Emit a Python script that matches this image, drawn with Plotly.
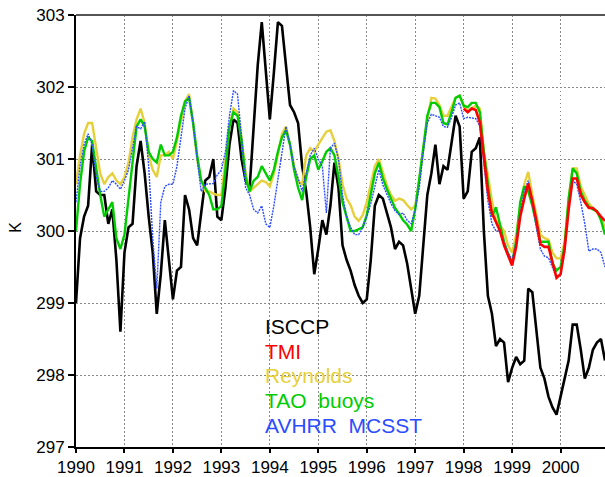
import plotly.graph_objects as go

# Monthly series, Jan 1990 .. Dec 2000 (132 months)
start_year = 1990
n_months = 132

isccp = [
    299.0, 299.9, 300.2, 300.35, 301.2, 300.55, 300.5, 300.5, 300.1, 300.3, 299.6, 298.6,
    299.7, 300.05, 300.1, 300.9, 301.25, 300.8, 300.2, 299.7, 298.85, 299.4, 300.15, 299.6,
    299.05, 299.45, 299.5, 300.5, 300.3, 299.9, 299.8, 300.25, 300.7, 300.75, 301.0, 300.2,
    300.15, 300.6, 301.2, 301.55, 301.5, 301.0, 300.7, 300.6, 301.5, 302.3, 302.9, 302.2,
    301.55, 302.2, 302.9, 302.85, 302.3, 301.75, 301.65, 301.5, 300.9, 300.55, 300.05, 299.4,
    299.75, 300.15, 299.95, 300.35, 300.95, 300.6, 299.8, 299.6, 299.45, 299.25, 299.1, 299.0,
    299.05, 299.6, 300.35, 300.5, 300.45, 300.25, 300.05, 299.75, 299.85, 299.8, 299.55, 299.2,
    298.85, 299.1, 299.8, 300.5, 300.8, 301.2, 300.65, 300.9, 300.85, 301.25, 301.6, 301.45,
    300.45, 300.55, 301.1, 301.15, 301.3, 300.0, 299.1, 298.85, 298.4, 298.5, 298.45, 297.9,
    298.1, 298.25, 298.15, 298.2, 299.2, 299.15, 298.6, 298.1, 297.95, 297.7, 297.55, 297.45,
    297.7, 297.95, 298.2, 298.7, 298.7, 298.35, 297.95, 298.1, 298.35, 298.45, 298.5, 298.2,
]

reynolds = [
    300.65, 301.05, 301.35, 301.5, 301.5, 301.15, 300.8, 300.65, 300.75, 300.8, 300.7, 300.65,
    300.75, 300.95, 301.3, 301.55, 301.7, 301.5, 301.05, 300.85, 300.75, 301.05, 301.05, 301.1,
    301.0, 301.25, 301.55, 301.8, 301.9, 301.5, 301.0, 300.7, 300.55, 300.55, 300.52, 300.5,
    300.5, 300.95, 301.45, 301.7, 301.65, 301.3, 300.8, 300.55, 300.6, 300.65, 300.7, 300.68,
    300.62, 300.8, 301.1, 301.35, 301.45, 301.2, 300.9, 300.7, 300.64, 301.05, 301.15, 301.1,
    301.2, 301.3, 301.38, 301.4, 301.25, 301.0, 300.65, 300.45, 300.36, 300.2, 300.14, 300.22,
    300.4, 300.65, 300.9, 301.0, 300.83, 300.63, 300.5, 300.42, 300.45, 300.43, 300.36, 300.3,
    300.35, 300.7, 301.15, 301.55, 301.85, 301.84, 301.75, 301.6, 301.6, 301.72, 301.85, 301.88,
    301.75, 301.67, 301.7, 301.74, 301.7, 301.1, 300.78, 300.42, 300.15, 300.07, 300.0, 299.8,
    299.7, 299.95, 300.35, 300.65, 300.82, 300.5, 300.2, 299.95, 299.9, 299.88, 299.7, 299.62,
    299.62, 299.85, 300.45, 300.87, 300.87, 300.62, 300.5, 300.38, 300.32, 300.26, 300.18, 300.05,
]

tao = [
    300.0, 300.65, 301.1, 301.3, 301.25, 300.85, 300.5, 300.2, 300.3, 300.4, 299.9, 299.75,
    299.95, 300.45, 301.0, 301.45, 301.55, 301.45, 301.1, 301.0, 300.95, 301.2, 301.05, 301.05,
    301.1, 301.3, 301.6, 301.8, 301.85, 301.5, 301.05, 300.7, 300.6, 300.5, 300.3, 300.3,
    300.35, 300.85, 301.45, 301.65, 301.6, 301.25, 300.75, 300.55, 300.7, 300.75, 300.9, 300.8,
    300.7, 300.85, 301.1, 301.3, 301.4, 301.2, 300.85, 300.6, 300.43, 300.75, 301.0, 301.05,
    300.85, 300.97, 301.1, 301.15, 301.05, 300.75, 300.4, 300.2, 300.0, 300.0, 300.02, 300.05,
    300.22, 300.5, 300.8, 300.95, 300.73, 300.58, 300.45, 300.32, 300.24, 300.15, 300.09, 300.0,
    300.3, 300.7, 301.15, 301.6, 301.78, 301.78, 301.72, 301.5, 301.48, 301.65, 301.85, 301.88,
    301.74, 301.72, 301.78, 301.78, 301.65, 301.1, 300.64, 300.2, 300.33, 300.1, 299.85, 299.68,
    299.55, 299.85, 300.4, 300.62, 300.55, 300.35, 300.1, 299.85, 299.85, 299.85, 299.55, 299.45,
    299.5, 299.8, 300.45, 300.87, 300.8, 300.55, 300.42, 300.34, 300.3, 300.28, 300.15, 299.95,
]

avhrr = [
    300.4, 300.9, 301.2, 301.35, 301.2, 300.75, 300.55, 300.55, 300.6, 300.7, 300.65, 300.58,
    300.7, 300.85, 301.15, 301.45, 301.42, 301.52, 300.9, 299.9, 299.2, 300.4, 300.62, 300.65,
    300.65, 300.9, 301.3, 301.7, 301.88, 301.5, 301.0, 300.55, 300.65, 300.66, 300.66, 300.78,
    300.85, 301.1, 301.6, 301.95, 301.9, 301.3, 300.6, 300.5, 300.3, 300.25, 300.35, 300.1,
    300.05, 300.35, 300.7, 301.1, 301.45, 301.2, 300.9, 300.73, 300.55, 300.8, 301.05, 301.15,
    301.0, 300.9, 300.25, 301.15, 301.22, 301.0, 300.5, 300.2, 300.05, 299.95, 299.95, 300.05,
    300.2, 300.38, 300.6, 300.85, 300.64, 300.5, 300.38, 300.28, 300.23, 300.25, 300.15, 300.1,
    300.3, 300.6, 301.1, 301.5, 301.62, 301.6, 301.58, 301.45, 301.44, 301.58, 301.75, 301.78,
    301.56, 301.58, 301.57, 301.56, 301.46, 300.95, 300.42, 300.1, 300.0, 300.0, 299.85, 299.7,
    299.6, 299.85, 300.25, 300.55, 300.7, 300.35, 300.05, 299.75, 299.65, 299.63, 299.5, 299.35,
    299.4, 299.7, 300.3, 300.7, 300.65, 300.4, 300.1, 299.72, 299.75, 299.75, 299.7, 299.5,
]

# TMI: Jan 1998 .. Dec 2000
tmi_start_index = 96
tmi = [
    301.7, 301.65, 301.7, 301.68, 301.51, 301.0, 300.55, 300.25, 300.12, 300.0, 299.8, 299.65,
    299.52, 299.78, 300.2, 300.45, 300.66, 300.42, 300.15, 299.82, 299.78, 299.78, 299.56, 299.35,
    299.4, 299.75, 300.3, 300.73, 300.73, 300.5, 300.4, 300.32, 300.32, 300.27, 300.2, 300.14,
]

legend_names = ["ISCCP", "TMI", "Reynolds", "TAO  buoys", "AVHRR  MCSST"]
colors = {"ISCCP": "#000000", "TMI": "#ff0000", "Reynolds": "#e6d03a",
          "TAO  buoys": "#00cc00", "AVHRR  MCSST": "#2b4cff"}

year_ticks = list(range(1990, 2001))
k_ticks = list(range(297, 304))

t_all = [start_year + i / 12 for i in range(n_months)]
t_tmi = t_all[tmi_start_index:]

fig = go.Figure()
fig.add_trace(go.Scatter(x=t_all, y=isccp, mode="lines", name="ISCCP",
                         line=dict(color=colors["ISCCP"], width=2.6)))
fig.add_trace(go.Scatter(x=t_all, y=reynolds, mode="lines", name="Reynolds",
                         line=dict(color=colors["Reynolds"], width=2.4)))
fig.add_trace(go.Scatter(x=t_all, y=tao, mode="lines", name="TAO buoys",
                         line=dict(color=colors["TAO  buoys"], width=2.4)))
fig.add_trace(go.Scatter(x=t_all, y=avhrr, mode="lines", name="AVHRR MCSST",
                         line=dict(color=colors["AVHRR  MCSST"], width=1.4, dash="2px,1px")))
fig.add_trace(go.Scatter(x=t_tmi, y=tmi, mode="lines", name="TMI",
                         line=dict(color=colors["TMI"], width=2.6)))

font_family = "Liberation Sans, Arial, sans-serif"

fig.update_layout(
    width=605, height=477,
    margin=dict(l=76, r=0, t=15, b=25),
    paper_bgcolor="white", plot_bgcolor="white",
    showlegend=False,
    font=dict(family=font_family, color="black", size=17),
    xaxis=dict(
        range=[start_year, start_year + (n_months - 1) / 12],
        tickmode="array", tickvals=year_ticks, ticktext=[str(y) for y in year_ticks],
        showgrid=True, gridcolor="#888888", griddash="1.5px,2.5px", gridwidth=1,
        showline=True, linecolor="black", linewidth=2,
        ticks="outside", ticklen=4, tickwidth=1.5, tickcolor="black",
        tickfont=dict(size=17, family=font_family),
        zeroline=False,
    ),
    yaxis=dict(
        range=[297, 303],
        tickmode="array", tickvals=k_ticks, ticktext=[str(k) for k in k_ticks],
        showgrid=True, gridcolor="#888888", griddash="1.5px,2.5px", gridwidth=1,
        showline=True, linecolor="black", linewidth=2,
        ticks="outside", ticklen=6, tickwidth=1.5, tickcolor="black",
        tickfont=dict(size=17, family=font_family),
        zeroline=False,
    ),
    shapes=[dict(type="line", xref="paper", yref="paper", x0=0, x1=1, y0=1, y1=1,
                 line=dict(color="#555555", width=2))],
)

# Y axis title
fig.add_annotation(text="K", xref="paper", yref="paper", x=-0.115, y=0.508,
                   showarrow=False, textangle=-90, font=dict(size=16, family=font_family),
                   xanchor="center", yanchor="middle")

# In-plot legend text
for k, name in enumerate(legend_names):
    fig.add_annotation(text=name, xref="paper", yref="paper",
                       x=0.3535, y=0.279 - k * 0.0572, xanchor="left", yanchor="middle",
                       showarrow=False, font=dict(size=21, family=font_family, color=colors[name]))

fig.write_html("out.html")
